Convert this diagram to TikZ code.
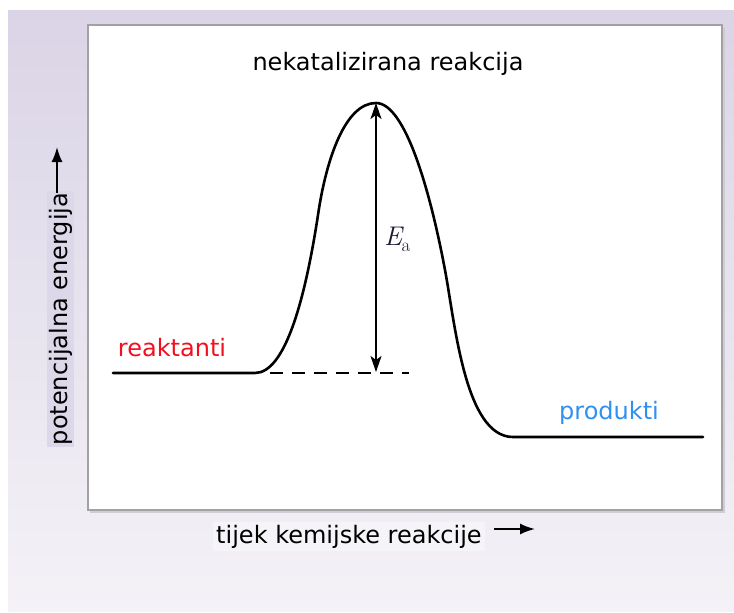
\documentclass[tikz,border=0pt]{standalone}
\usepackage{fontspec}
\setmainfont{DejaVu Sans}
\newfontfamily\lmfont{Latin Modern Roman}
\usetikzlibrary{arrows.meta}
\definecolor{bgtop}{HTML}{DAD4E6}
\definecolor{bgmid}{HTML}{E4E0EC}
\definecolor{bgbot}{HTML}{F4F2F7}
\definecolor{boxgray}{HTML}{A2A2A4}
\definecolor{shadowgray}{HTML}{CFCDD3}
\definecolor{ylabbg}{HTML}{DCD7E9}
\definecolor{xlabbg}{HTML}{F5F4F8}
\definecolor{reacred}{HTML}{F01020}
\definecolor{prodblue}{HTML}{2E90F0}
\definecolor{eacol}{HTML}{1A1A30}
\tikzset{
  lbl/.style={font=\fontsize{24}{28}\selectfont, inner sep=1pt},
  curveline/.style={line width=2.6pt, line cap=round, line join=round},
  axisarrow/.style={line width=1.8pt, -{Latex[length=15pt,width=11pt]}},
  ea/.style={line width=1.6pt, {Stealth[length=16pt,width=11pt,inset=4pt]}-{Stealth[length=16pt,width=11pt,inset=4pt]}},
  dashline/.style={line width=1.5pt, dash pattern=on 13pt off 9pt}
}
\begin{document}
\begin{tikzpicture}[x=1pt,y=-1pt]
\useasboundingbox (0,0) rectangle (734,613);
\fill[white] (0,0) rectangle (734,613);
\shade[top color=bgtop, middle color=bgmid, bottom color=bgbot] (8,10) rectangle (734,611);
% plot frame
\fill[shadowgray] (90,27) rectangle (724.5,512.5);
\draw[boxgray, line width=1.5pt, fill=white] (88,25) rectangle (722,510);
% labels
\node[lbl, anchor=base] (title) at (388,70) {nekatalizirana reakcija};
\node[lbl, anchor=base, text=reacred] (reac) at (172,356) {reaktanti};
\node[lbl, anchor=base, text=prodblue] (prod) at (609,419) {produkti};
\node[lbl, anchor=base, rotate=90, fill=ylabbg, inner sep=2pt] (ylab) at (67,319) {potencijalna energija};
\node[lbl, anchor=base, fill=xlabbg, inner sep=3pt] (xlab) at (349,543) {tijek kemijske reakcije};
\coordinate (ybase) at (57,193);
\coordinate (ytip) at (57,147);
\coordinate (xbase) at (494,529);
\coordinate (xtip) at (535,529);
\draw[axisarrow] (ybase) -- (ytip);
\draw[axisarrow] (xbase) -- (xtip);
% energy curve
\coordinate (r0) at (113,373);
\coordinate (r1) at (255,373);
\coordinate (peak) at (376,103);
\coordinate (p0) at (513,437);
\coordinate (p1) at (703,437);
\draw[curveline] (r0) -- (r1)
  .. controls (285,373) and (305,300) .. (318,215)
  .. controls (326,160) and (345,103) .. (peak)
  .. controls (405,103) and (430,190) .. (445,270)
  .. controls (455,323) and (465,437) .. (p0)
  -- (p1);
% activation energy
\coordinate (dash0) at (270,373);
\coordinate (dash1) at (409,373);
\coordinate (eabot) at (376,372);
\draw[dashline] (dash0) -- (dash1);
\draw[ea] (peak) -- (eabot);
\node[anchor=base west, inner sep=0pt, text=eacol] (ealab) at (384,245)
  {\lmfont\fontsize{27}{30}\selectfont\itshape E\kern-0.5pt\upshape\raisebox{-6pt}{\fontsize{19}{20}\selectfont a}};
\end{tikzpicture}
\end{document}
